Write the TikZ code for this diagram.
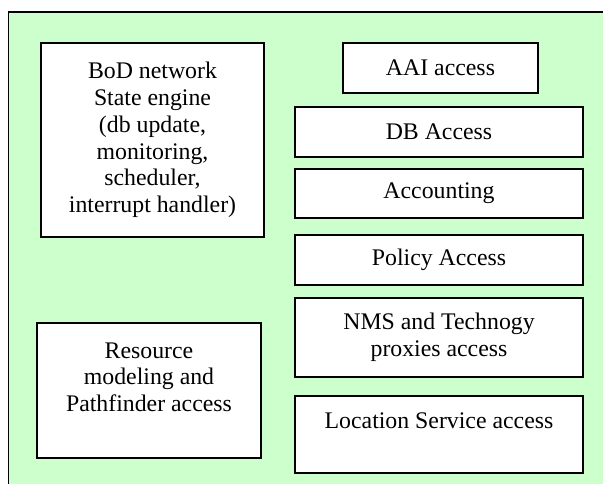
\documentclass[tikz,border=0pt]{standalone}
\usepackage{fontspec}
\setmainfont{Liberation Serif}
\definecolor{panelgreen}{HTML}{CCFFCC}
\tikzset{
  module/.style={draw=black, fill=white, line width=1.2pt, inner sep=0pt,
    align=center, font=\fontsize{23.8}{26.8}\selectfont, text=black}
}
\begin{document}
\begin{tikzpicture}[x=1pt,y=-1pt]
\useasboundingbox (0,0) rectangle (603,484);
% green panel with top and left border
\fill[panelgreen] (8.5,12) rectangle (603,484);
\draw[line width=1.8pt] (8.5,484) -- (8.5,12) -- (603,12);

% left column
\node[module, minimum width=223pt, minimum height=194pt] (bod) at (152.5,140)
  {BoD network\\State engine\\(db update,\\monitoring,\\scheduler,\\interrupt handler)};
\node[module, minimum width=224pt, minimum height=135pt] (res) at (149,390.5)
  {Resource\\modeling and\\Pathfinder access\\~};

% right column
\node[module, minimum width=195pt, minimum height=50pt] (aai) at (440.5,68) {AAI access};
\node[module, minimum width=288pt, minimum height=50pt] (db) at (439,132) {DB Access};
\node[module, minimum width=288pt, minimum height=49pt] (acc) at (439,193.5) {Accounting};
\node[module, minimum width=288pt, minimum height=50pt] (pol) at (439,260) {Policy Access};
\node[module, minimum width=288pt, minimum height=79pt] (nms) at (439,337.5)
  {NMS and Technogy\\proxies access};
\node[module, minimum width=288pt, minimum height=77pt] (loc) at (439,434.5)
  {Location Service access\\~};
\end{tikzpicture}
\end{document}
